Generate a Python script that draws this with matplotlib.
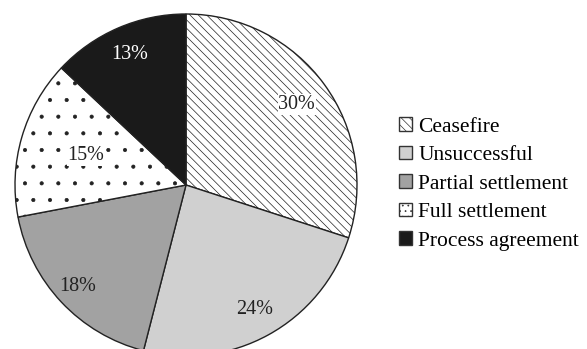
import matplotlib
matplotlib.use("Agg")
import matplotlib.pyplot as plt
from matplotlib.patches import Patch

categories = ["Ceasefire", "Unsuccessful", "Partial settlement", "Full settlement", "Process agreement"]
shares = [30, 24, 18, 15, 13]

colors = ["white", "#d0d0d0", "#a2a2a2", "white", "#1a1a1a"]
hatches = ["\\\\\\\\", "", "", ".", ""]
legend_hatches = ["\\\\\\\\", "", "", "...", ""]
label_dist = [0.80, 0.83, 0.87, 0.61, 0.83]
label_colors = ["#222222", "#222222", "#222222", "#222222", "white"]
label_bg = [True, False, False, True, False]

plt.rcParams["font.family"] = ["Liberation Serif", "DejaVu Serif"]
plt.rcParams["hatch.color"] = "#444444"
plt.rcParams["hatch.linewidth"] = 0.5

fig = plt.figure(figsize=(5.87, 3.49), dpi=100)
ax = fig.add_axes([15 / 587, (349 - 185 - 171) / 349, 342 / 587, 342 / 349])

wedges, texts, autotexts = ax.pie(
    shares, colors=colors, startangle=90, counterclock=False,
    autopct=lambda p: f"{p:.0f}%", pctdistance=1.0, radius=1.0,
    wedgeprops=dict(edgecolor="#222222", linewidth=1.0),
    textprops=dict(fontsize=14.5),
)
for w, h in zip(wedges, hatches):
    if h:
        w.set_hatch(h)
for t, d, c, bg in zip(autotexts, label_dist, label_colors, label_bg):
    x, y = t.get_position()
    t.set_position((x * d, y * d))
    t.set_color(c)
    if bg:
        t.set_bbox(dict(facecolor="white", edgecolor="none", pad=0.5))
ax.set_xlim(-1, 1)
ax.set_ylim(-1, 1)
ax.set_aspect("equal")
ax.axis("off")

handles = [Patch(facecolor=c, edgecolor="#333333", hatch=h, linewidth=1.0)
           for c, h in zip(colors, legend_hatches)]
fig.legend(handles, categories, loc="center left", bbox_to_anchor=(399 / 587, 1 - 184 / 349),
           frameon=False, fontsize=15.5, handlelength=0.6, handleheight=0.6,
           handletextpad=0.3, labelspacing=0.42, borderpad=0, borderaxespad=0)

fig.savefig("out.png", dpi=100)
